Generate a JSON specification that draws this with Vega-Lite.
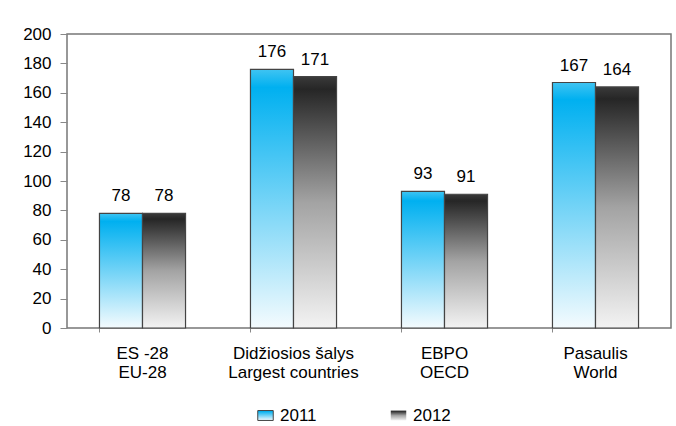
{
  "$schema": "https://vega.github.io/schema/vega-lite/v6.json",
  "width": 604,
  "height": 294,
  "autosize": {"type": "none"},
  "padding": {"left": 67, "top": 34, "right": 5, "bottom": 98},
  "background": "white",
  "config": {
    "font": "Liberation Sans",
    "view": {"stroke": "#777777", "strokeWidth": 1.5},
    "legend": {
      "title": null,
      "orient": "none",
      "direction": "horizontal",
      "symbolType": "M-1,-0.64H1V0.64H-1Z",
      "symbolSize": 240,
      "symbolStrokeWidth": 1,
      "symbolStrokeColor": "#444444",
      "labelFontSize": 17,
      "labelColor": "#000000",
      "labelOffset": 6
    }
  },
  "data": {
    "values": [
      {"group": "ES -28|EU-28", "year": "2011", "value": 78},
      {"group": "ES -28|EU-28", "year": "2012", "value": 78},
      {"group": "Didžiosios šalys|Largest countries", "year": "2011", "value": 176},
      {"group": "Didžiosios šalys|Largest countries", "year": "2012", "value": 171},
      {"group": "EBPO|OECD", "year": "2011", "value": 93},
      {"group": "EBPO|OECD", "year": "2012", "value": 91},
      {"group": "Pasaulis|World", "year": "2011", "value": 167},
      {"group": "Pasaulis|World", "year": "2012", "value": 164}
    ]
  },
  "encoding": {
    "x": {
      "field": "group",
      "type": "nominal",
      "sort": null,
      "scale": {"paddingInner": 0.43, "paddingOuter": 0.215},
      "axis": {
        "title": null,
        "labelAngle": 0,
        "labelExpr": "split(datum.label, '|')",
        "labelFontSize": 17,
        "labelColor": "#000000",
        "labelLineHeight": 19,
        "labelPadding": 13,
        "labelBaseline": "top",
        "domain": false,
        "ticks": true,
        "bandPosition": 0,
        "tickSize": 4,
        "tickColor": "#888888",
        "grid": false
      }
    },
    "xOffset": {"field": "year", "type": "nominal", "scale": {"domain": ["2011", "2012"], "paddingInner": 0}},
    "y": {
      "field": "value",
      "type": "quantitative",
      "scale": {"domain": [0, 200]},
      "axis": {
        "title": null,
        "values": [0, 20, 40, 60, 80, 100, 120, 140, 160, 180, 200],
        "labelFontSize": 17,
        "labelColor": "#000000",
        "labelPadding": 9,
        "tickSize": 7,
        "tickColor": "#888888",
        "domain": false,
        "grid": false
      }
    }
  },
  "layer": [
    {
      "transform": [{"filter": "datum.year === '2011'"}],
      "mark": {
        "type": "bar", "strokeWidth": 1.2,
        "fill": {"gradient": "linear", "x1": 0, "y1": 0, "x2": 0, "y2": 1,
          "stops": [
            {"offset": 0, "color": "#40c4f2"},
            {"offset": 0.07, "color": "#00b0f0"},
            {"offset": 1, "color": "#f4fbfe"}
          ]}
      },
      "encoding": {
        "stroke": {
          "field": "year",
          "type": "nominal",
          "scale": {"domain": ["2011"], "range": ["#444444"]},
          "legend": {"legendX": 190, "legendY": 373}
        }
      }
    },
    {
      "transform": [{"filter": "datum.year === '2012'"}],
      "mark": {
        "type": "bar", "strokeWidth": 1.2, "stroke": "#444444",
        "fill": {"gradient": "linear", "x1": 0, "y1": 0, "x2": 0, "y2": 1,
          "stops": [
            {"offset": 0, "color": "#3a3a3a"},
            {"offset": 0.05, "color": "#262626"},
            {"offset": 0.5, "color": "#a3a3a3"},
            {"offset": 1, "color": "#f3f3f3"}
          ]}
      },
      "encoding": {
        "opacity": {
          "field": "year",
          "type": "nominal",
          "scale": {"domain": ["2012"], "range": [1]},
          "legend": {"legendX": 323, "legendY": 373}
        }
      }
    },
    {
      "mark": {"type": "text", "baseline": "bottom", "dy": -8, "fontSize": 17, "color": "#000000"},
      "encoding": {"text": {"field": "value", "type": "quantitative"}}
    }
  ]
}
